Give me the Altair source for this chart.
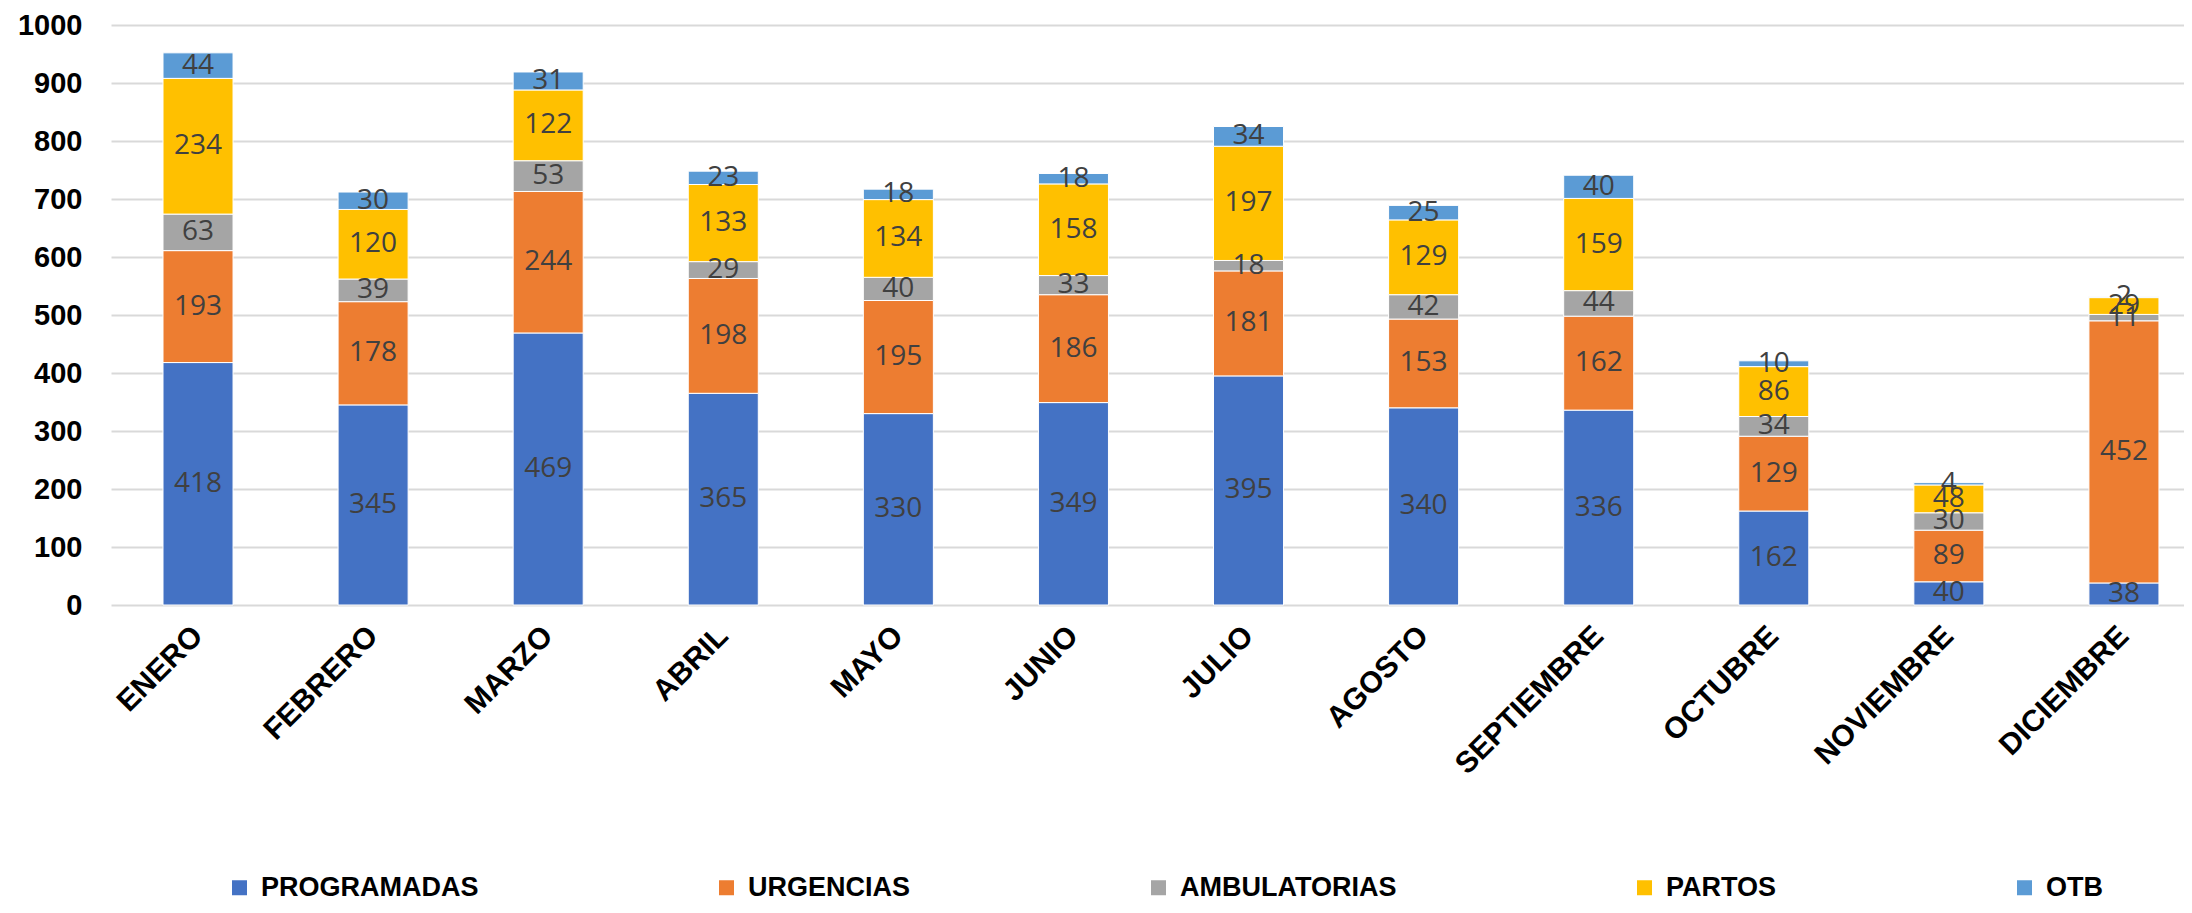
import altair as alt
import pandas as pd

months = ["ENERO", "FEBRERO", "MARZO", "ABRIL", "MAYO", "JUNIO", "JULIO",
          "AGOSTO", "SEPTIEMBRE", "OCTUBRE", "NOVIEMBRE", "DICIEMBRE"]
series = ["PROGRAMADAS", "URGENCIAS", "AMBULATORIAS", "PARTOS", "OTB"]
colors = ["#4472C4", "#ED7D31", "#A5A5A5", "#FFC000", "#5B9BD5"]

programadas = [418, 345, 469, 365, 330, 349, 395, 340, 336, 162, 40, 38]
urgencias = [193, 178, 244, 198, 195, 186, 181, 153, 162, 129, 89, 452]
ambulatorias = [63, 39, 53, 29, 40, 33, 18, 42, 44, 34, 30, 11]
partos = [234, 120, 122, 133, 134, 158, 197, 129, 159, 86, 48, 29]
otb = [44, 30, 31, 23, 18, 18, 34, 25, 40, 10, 4, 2]

values = [programadas, urgencias, ambulatorias, partos, otb]
rows = []
for si, (name, vals) in enumerate(zip(series, values)):
    for m, v in zip(months, vals):
        rows.append({"month": m, "series": name, "order": si, "value": v})
df = pd.DataFrame(rows)

base = alt.Chart(df).transform_stack(
    stack="value", groupby=["month"], as_=["y0", "y1"],
    sort=[alt.SortField("order", order="ascending")]
).transform_calculate(mid="(datum.y0 + datum.y1) / 2")

xenc = alt.X(
    "month:N", sort=months, title=None,
    scale=alt.Scale(paddingInner=0.6, paddingOuter=0.22, align=0.675),
    axis=alt.Axis(labelAngle=-45, labelAlign="right", labelBaseline="middle",
                  labelFont="Liberation Sans", labelFontWeight="bold",
                  labelFontSize=30, labelColor="black", labelPadding=26,
                  labelLimit=400, domain=False, ticks=False, tickSize=0,
                  grid=False),
)

bars = base.mark_bar(stroke="white", strokeWidth=1).encode(
    x=xenc,
    y=alt.Y("y0:Q", title=None, scale=alt.Scale(domain=[0, 1000], nice=False),
            axis=alt.Axis(values=list(range(0, 1001, 100)), format="d",
                          labelFont="Liberation Sans",
                          labelFontWeight="bold", labelFontSize=29, labelColor="black",
                          labelPadding=29, domain=False, ticks=False, tickSize=0,
                          grid=True, gridColor="#D9D9D9", gridWidth=2)),
    y2="y1:Q",
    color=alt.Color("series:N", scale=alt.Scale(domain=series, range=colors),
                    legend=alt.Legend(orient="none", legendX=115, legendY=849,
                                      direction="horizontal", columns=5, title=None,
                                      symbolType="square", symbolSize=225,
                                      symbolStrokeWidth=0,
                                      labelFont="Liberation Sans",
                                      labelFontWeight="bold", labelFontSize=27,
                                      labelColor="black", labelLimit=400,
                                      columnPadding=234, labelOffset=8, padding=0)),
)

labels = base.mark_text(font="Open Sans", fontSize=28, color="#404040").encode(
    x=alt.X("month:N", sort=months),
    y=alt.Y("mid:Q"),
    text=alt.Text("value:Q"),
)

chart = alt.layer(bars, labels).properties(
    width=2073, height=580,
    autosize=alt.AutoSizeParams(type="none"),
    padding={"left": 103, "top": 17, "right": 0, "bottom": 298},
).configure_view(stroke=None)

chart.save("out.html", embed_options={"renderer": "svg", "actions": False})
